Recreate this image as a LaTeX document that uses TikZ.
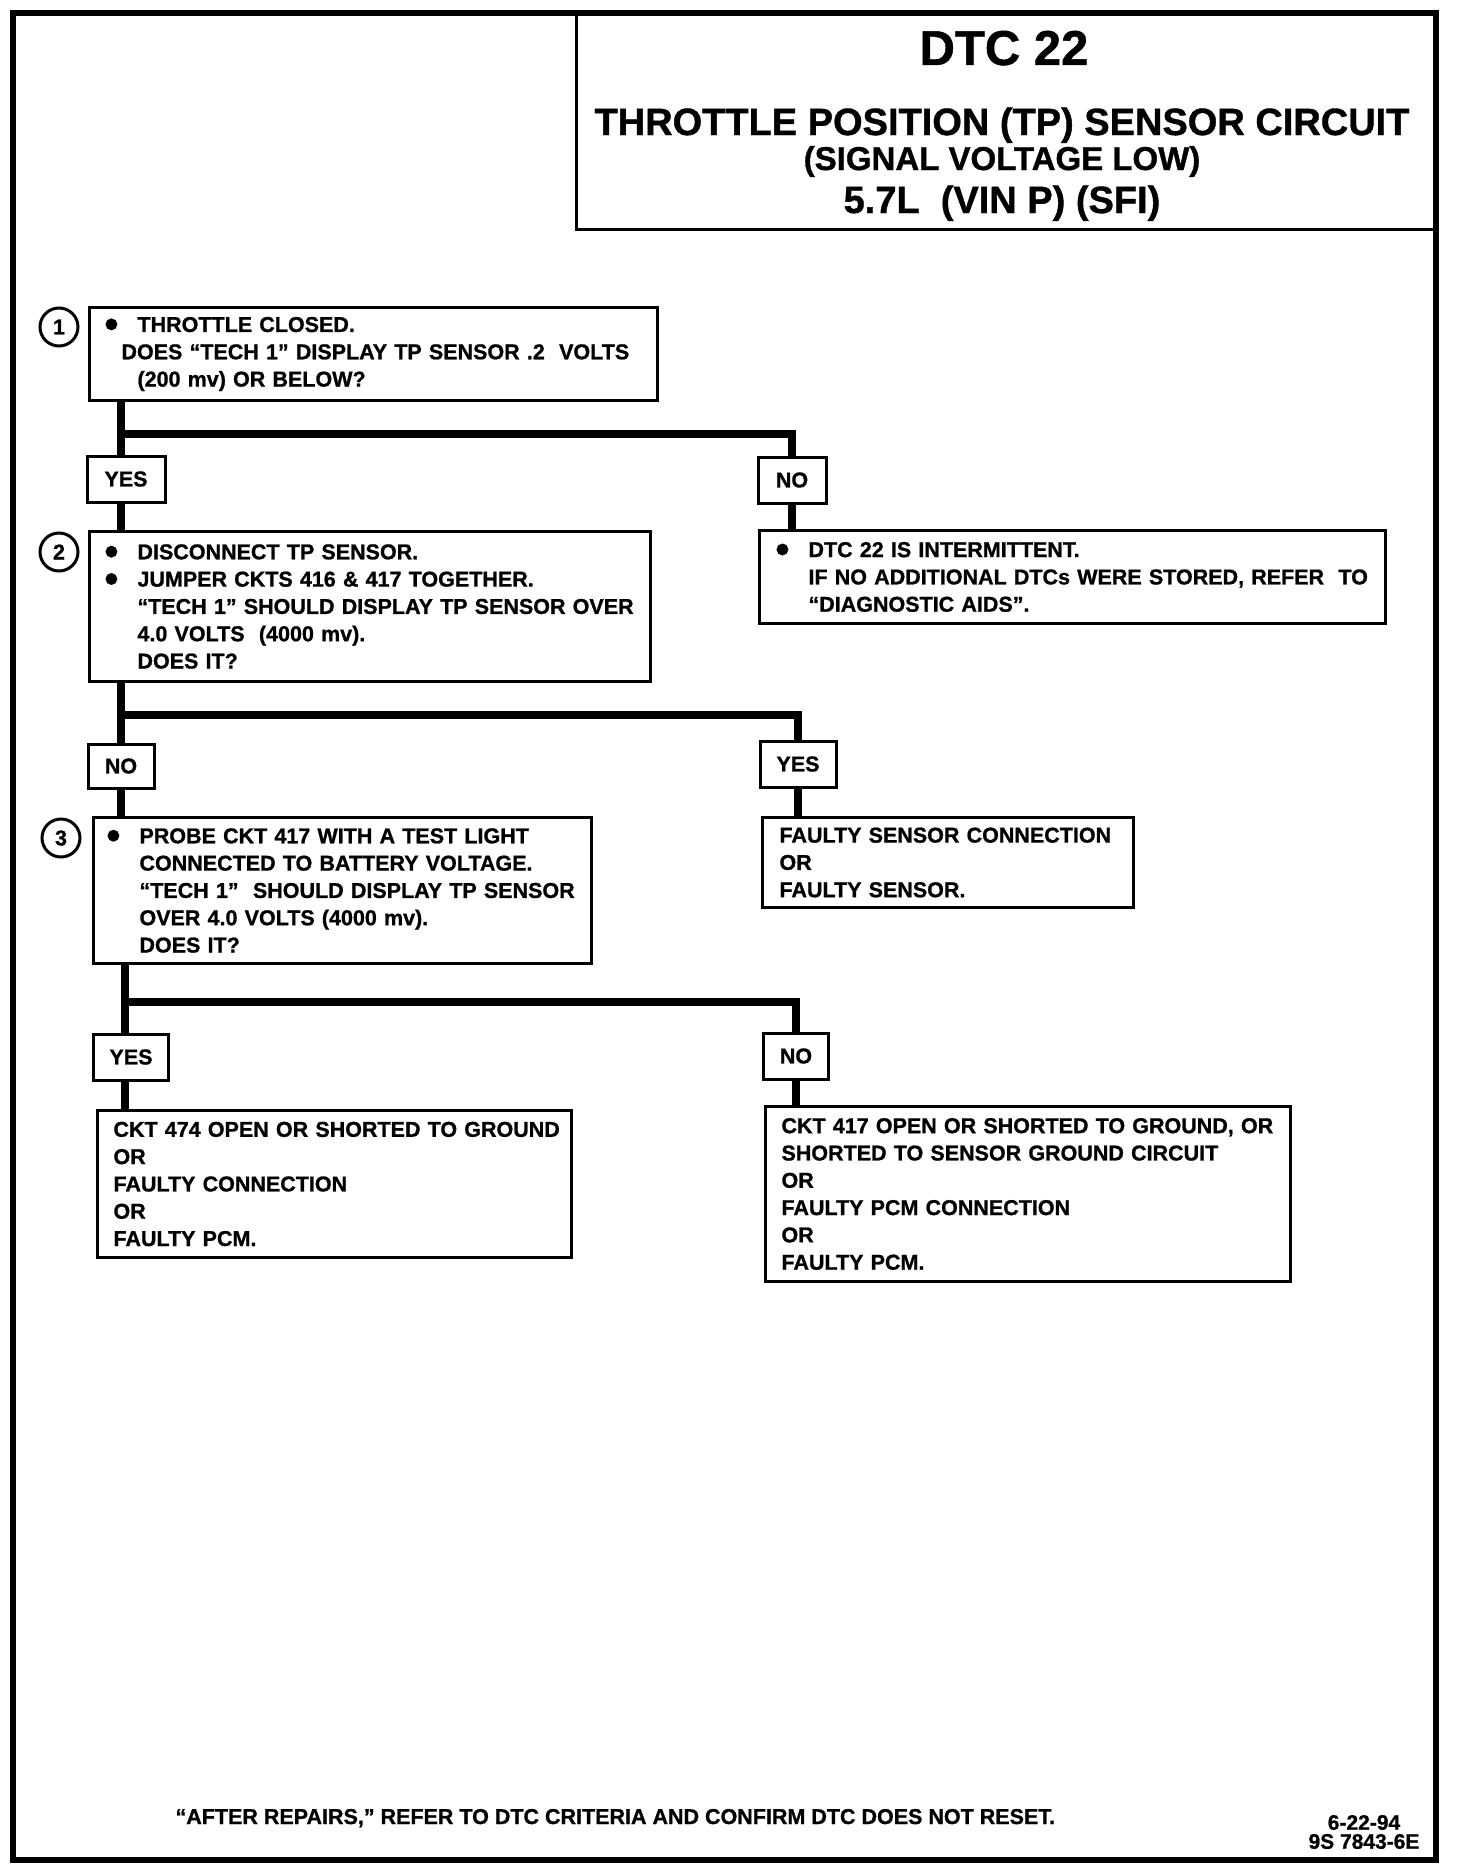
\documentclass[tikz,border=0pt]{standalone}
\usepackage{fontspec}
\setmainfont{Liberation Sans}[BoldFeatures={FakeBold=1}]
\usepackage{graphicx}
\usepackage{tikz}

\newcommand{\stepfont}{\fontsize{21.5}{27.3}\selectfont\bfseries}
\newcommand{\bulletgap}{\makebox[33pt][l]{\smash{\raisebox{-5.5pt}{\scalebox{1.85}{\textbullet}}}}}

\begin{document}
\begin{tikzpicture}[x=1pt, y=-1pt,
    stepbox/.style = {draw, line width=3pt, anchor=north west, align=left,
                      inner xsep=2pt, inner ysep=0pt, font=\stepfont},
    answer/.style  = {draw, line width=3pt, minimum height=46pt, inner sep=0pt, font=\stepfont},
    stepnum/.style = {draw, circle, line width=3pt, minimum size=38pt, inner sep=0pt, font=\stepfont},
    trunk/.style   = {line width=8pt}]

    \useasboundingbox (0,0) rectangle (1456,1876);
    \draw [line width=5.5pt] (13,13) rectangle (1436,1860);

    % title block
    \draw [line width=3pt] (576,13) rectangle (1436,229);
    \node [anchor=base, font=\fontsize{49}{49}\selectfont\bfseries] (dtc) at (1004,65) {DTC 22};
    \node [anchor=base, font=\fontsize{38}{38}\selectfont\bfseries] (tpname) at (1002,135) {THROTTLE POSITION (TP) SENSOR CIRCUIT};
    \node [anchor=base, font=\fontsize{33}{33}\selectfont\bfseries] (tpfault) at (1002,170) {(SIGNAL VOLTAGE LOW)};
    \node [anchor=base, font=\fontsize{38}{38}\selectfont\bfseries] (engine) at (1002,213) {5.7L\ \ (VIN P) (SFI)};

    % steps
    \node [stepnum] (c1) at (59,327) {1};
    \node [stepbox, text width=564pt, minimum height=93pt] (q1) at (88,306)
        {\hspace*{13pt}\bulletgap THROTTLE CLOSED.\\
         \hspace*{30pt}DOES “TECH 1” DISPLAY TP SENSOR .2\ \ VOLTS\\
         \hspace*{46pt}(200 mv) OR BELOW?};

    \node [stepnum] (c2) at (59,552) {2};
    \node [stepbox, text width=557pt, minimum height=150pt] (q2) at (88,530)
        {\hspace*{13pt}\bulletgap DISCONNECT TP SENSOR.\\
         \hspace*{13pt}\bulletgap JUMPER CKTS 416 \& 417 TOGETHER.\\
         \hspace*{46pt}“TECH 1” SHOULD DISPLAY TP SENSOR OVER\\
         \hspace*{46pt}4.0 VOLTS\ \ (4000 mv).\\
         \hspace*{46pt}DOES IT?};

    \node [stepbox, text width=622pt, minimum height=93pt] (r1) at (758,529)
        {\hspace*{14pt}\bulletgap DTC 22 IS INTERMITTENT.\\
         \hspace*{47pt}IF NO ADDITIONAL DTCs WERE STORED, REFER\ \ TO\\
         \hspace*{47pt}“DIAGNOSTIC AIDS”.};

    \node [stepnum] (c3) at (61,838) {3};
    \node [stepbox, text width=494pt, minimum height=146pt] (q3) at (92,816)
        {\hspace*{11pt}\bulletgap PROBE CKT 417 WITH A TEST LIGHT\\
         \hspace*{44pt}CONNECTED TO BATTERY VOLTAGE.\\
         \hspace*{44pt}“TECH 1”\ \ SHOULD DISPLAY TP SENSOR\\
         \hspace*{44pt}OVER 4.0 VOLTS (4000 mv).\\
         \hspace*{44pt}DOES IT?};

    \node [stepbox, text width=367pt, minimum height=90pt] (r2) at (761,816)
        {\hspace*{15pt}FAULTY SENSOR CONNECTION\\
         \hspace*{15pt}OR\\
         \hspace*{15pt}FAULTY SENSOR.};

    \node [stepbox, text width=470pt, minimum height=147pt] (r3) at (96,1109)
        {\hspace*{14pt}CKT 474 OPEN OR SHORTED TO GROUND\\
         \hspace*{14pt}OR\\
         \hspace*{14pt}FAULTY CONNECTION\\
         \hspace*{14pt}OR\\
         \hspace*{14pt}FAULTY PCM.};

    \node [stepbox, text width=521pt, minimum height=175pt] (r4) at (764,1105)
        {\hspace*{14pt}CKT 417 OPEN OR SHORTED TO GROUND, OR\\
         \hspace*{14pt}SHORTED TO SENSOR GROUND CIRCUIT\\
         \hspace*{14pt}OR\\
         \hspace*{14pt}FAULTY PCM CONNECTION\\
         \hspace*{14pt}OR\\
         \hspace*{14pt}FAULTY PCM.};

    % answers
    \node [answer, minimum width=78pt] (yes1) at (126,479) {YES};
    \node [answer, minimum width=68pt] (no1) at (792,480) {NO};
    \node [answer, minimum width=66pt, minimum height=44pt] (no2) at (121,766) {NO};
    \node [answer, minimum width=76pt] (yes2) at (798,764) {YES};
    \node [answer, minimum width=75pt] (yes3) at (131,1057) {YES};
    \node [answer, minimum width=65pt] (no3) at (796,1056) {NO};

    \coordinate (fork1) at (121,434);
    \coordinate (fork2) at (121,715);
    \coordinate (fork3) at (125,1002);

    \draw [trunk] (q1.south -| fork1) -- (yes1.north -| fork1);
    \draw [trunk] (yes1.south -| fork1) -- (q2.north -| fork1);
    \draw [trunk] (fork1) -| (no1.north);
    \draw [trunk] (no1.south) -- (r1.north -| no1.south);

    \draw [trunk] (q2.south -| fork2) -- (no2.north -| fork2);
    \draw [trunk] (no2.south -| fork2) -- (q3.north -| fork2);
    \draw [trunk] (fork2) -| (yes2.north);
    \draw [trunk] (yes2.south) -- (r2.north -| yes2.south);

    \draw [trunk] (q3.south -| fork3) -- (yes3.north -| fork3);
    \draw [trunk] (yes3.south -| fork3) -- (r3.north -| fork3);
    \draw [trunk] (fork3) -| (no3.north);
    \draw [trunk] (no3.south) -- (r4.north -| no3.south);

    % footer
    \node [anchor=base west, font=\stepfont] (repairs) at (172,1824)
        {“AFTER REPAIRS,” REFER TO DTC CRITERIA AND CONFIRM DTC DOES NOT RESET.};
    \node [align=center, font=\fontsize{21}{19}\selectfont\bfseries] (docref) at (1364,1832)
        {6-22-94\\9S 7843-6E};
\end{tikzpicture}
\end{document}
